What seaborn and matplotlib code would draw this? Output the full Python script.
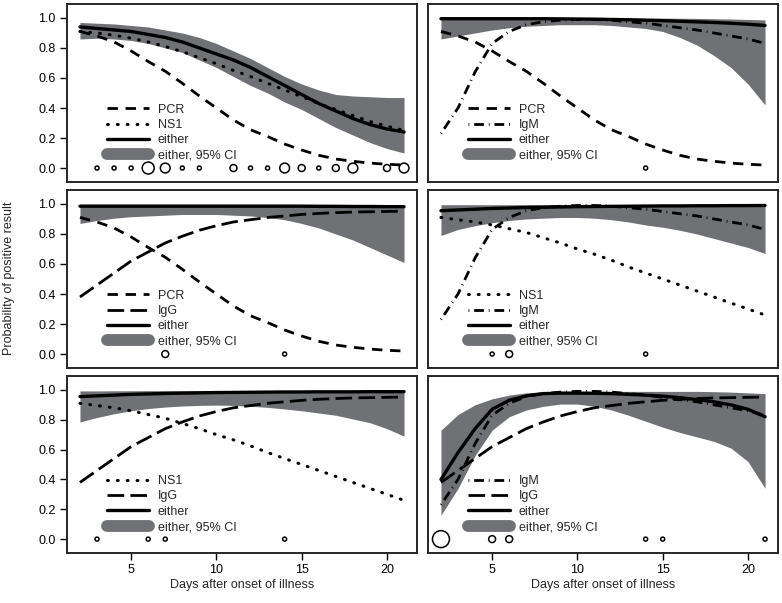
import matplotlib
matplotlib.use("Agg")
import matplotlib.pyplot as plt
from matplotlib.lines import Line2D
import seaborn as sns
import numpy as np

sns.set_style("ticks")
plt.rcParams['font.family'] = ['Liberation Sans', 'DejaVu Sans']
plt.rcParams['lines.scale_dashes'] = False

# ---------------- data ----------------
days = [2, 3, 4, 5, 6, 7, 8, 9, 10, 11, 12, 13, 14, 15, 16, 17, 18, 19, 20, 21]

pcr = [0.91, 0.88, 0.84, 0.78, 0.71, 0.645, 0.565, 0.48, 0.40, 0.32,
       0.255, 0.21, 0.16, 0.12, 0.085, 0.06, 0.045, 0.033, 0.025, 0.02]
ns1_a = [0.91, 0.90, 0.885, 0.865, 0.84, 0.81, 0.775, 0.735, 0.695, 0.65,
         0.61, 0.565, 0.52, 0.475, 0.43, 0.39, 0.35, 0.31, 0.28, 0.25]
ns1 = [0.91, 0.895, 0.88, 0.86, 0.835, 0.81, 0.775, 0.74, 0.70, 0.665,
       0.625, 0.58, 0.54, 0.50, 0.46, 0.42, 0.38, 0.34, 0.30, 0.26]
igm = [0.23, 0.40, 0.64, 0.83, 0.91, 0.955, 0.975, 0.985, 0.99, 0.99,
       0.985, 0.975, 0.965, 0.95, 0.935, 0.92, 0.90, 0.88, 0.86, 0.83]
igg = [0.38, 0.46, 0.54, 0.62, 0.68, 0.74, 0.785, 0.825, 0.855, 0.88,
       0.895, 0.91, 0.92, 0.93, 0.937, 0.942, 0.946, 0.948, 0.95, 0.952]

either1 = [0.94, 0.93, 0.92, 0.91, 0.89, 0.87, 0.84, 0.80, 0.76, 0.72,
           0.67, 0.61, 0.55, 0.49, 0.43, 0.38, 0.33, 0.29, 0.26, 0.24]
lo1 = [0.86, 0.865, 0.86, 0.85, 0.83, 0.80, 0.77, 0.72, 0.67, 0.61,
       0.55, 0.50, 0.44, 0.39, 0.33, 0.27, 0.22, 0.17, 0.13, 0.10]
hi1 = [0.97, 0.965, 0.96, 0.95, 0.94, 0.92, 0.90, 0.87, 0.83, 0.78,
       0.73, 0.67, 0.61, 0.56, 0.52, 0.49, 0.48, 0.475, 0.47, 0.47]

either2 = [0.995, 0.995, 0.995, 0.995, 0.995, 0.995, 0.995, 0.994, 0.993, 0.992,
           0.99, 0.988, 0.985, 0.982, 0.978, 0.974, 0.97, 0.965, 0.958, 0.95]
lo2 = [0.86, 0.88, 0.90, 0.92, 0.935, 0.945, 0.95, 0.955, 0.955, 0.955,
       0.95, 0.94, 0.93, 0.91, 0.87, 0.82, 0.75, 0.67, 0.56, 0.42]
hi2 = [0.999, 0.999, 0.999, 0.999, 0.999, 0.999, 0.999, 0.999, 0.999, 0.999,
       0.999, 0.999, 0.999, 0.999, 0.998, 0.997, 0.995, 0.993, 0.99, 0.987]

either3 = [0.985, 0.985, 0.985, 0.985, 0.985, 0.985, 0.985, 0.985, 0.985, 0.985,
           0.985, 0.985, 0.985, 0.985, 0.984, 0.984, 0.983, 0.983, 0.982, 0.982]
lo3 = [0.87, 0.89, 0.905, 0.915, 0.92, 0.925, 0.93, 0.93, 0.93, 0.925,
       0.92, 0.91, 0.895, 0.87, 0.84, 0.80, 0.76, 0.71, 0.66, 0.61]
hi3 = [0.998, 0.998, 0.998, 0.998, 0.998, 0.998, 0.998, 0.998, 0.998, 0.998,
       0.998, 0.998, 0.998, 0.998, 0.998, 0.997, 0.997, 0.996, 0.996, 0.995]

either4 = [0.955, 0.96, 0.965, 0.97, 0.973, 0.976, 0.978, 0.98, 0.982, 0.983,
           0.984, 0.985, 0.986, 0.987, 0.987, 0.988, 0.988, 0.989, 0.989, 0.99]
lo4 = [0.79, 0.83, 0.855, 0.875, 0.89, 0.90, 0.905, 0.91, 0.91, 0.905,
       0.895, 0.88, 0.86, 0.845, 0.825, 0.80, 0.77, 0.74, 0.71, 0.67]
hi4 = [0.995, 0.995, 0.995, 0.995, 0.995, 0.996, 0.996, 0.996, 0.996, 0.996,
       0.996, 0.996, 0.996, 0.996, 0.996, 0.996, 0.996, 0.996, 0.996, 0.996]

either5 = [0.955, 0.96, 0.965, 0.97, 0.973, 0.976, 0.978, 0.98, 0.982, 0.983,
           0.984, 0.985, 0.986, 0.986, 0.987, 0.987, 0.987, 0.988, 0.988, 0.988]
lo5 = [0.785, 0.815, 0.84, 0.86, 0.875, 0.885, 0.892, 0.896, 0.898, 0.896,
       0.89, 0.883, 0.872, 0.86, 0.845, 0.83, 0.805, 0.78, 0.74, 0.69]
hi5 = [0.993, 0.993, 0.994, 0.994, 0.995, 0.995, 0.995, 0.995, 0.995, 0.995,
       0.995, 0.995, 0.995, 0.995, 0.995, 0.995, 0.995, 0.995, 0.995, 0.995]

either6 = [0.40, 0.58, 0.74, 0.87, 0.93, 0.96, 0.975, 0.978, 0.978, 0.977,
           0.975, 0.97, 0.965, 0.958, 0.948, 0.935, 0.92, 0.90, 0.87, 0.82]
lo6 = [0.16, 0.34, 0.56, 0.73, 0.82, 0.865, 0.89, 0.905, 0.905, 0.89,
       0.865, 0.83, 0.79, 0.75, 0.715, 0.685, 0.655, 0.61, 0.52, 0.34]
hi6 = [0.73, 0.835, 0.90, 0.94, 0.965, 0.98, 0.987, 0.99, 0.99, 0.99,
       0.99, 0.99, 0.99, 0.99, 0.99, 0.99, 0.988, 0.985, 0.98, 0.975]

c1_days = [3, 4, 5, 6, 7, 8, 9, 11, 12, 13, 14, 15, 16, 17, 18, 20, 21]
c1_n = [1, 1, 1, 9, 6, 1, 1, 3, 1, 1, 6, 3, 1, 3, 6, 3, 6]
c2_days = [14]
c2_n = [1]
c3_days = [7, 14]
c3_n = [3, 1]
c4_days = [5, 6, 14]
c4_n = [1, 3, 1]
c5_days = [3, 6, 7, 14]
c5_n = [1, 1, 1, 1]
c6_days = [2, 5, 6, 14, 15, 21]
c6_n = [18, 3, 3, 1, 1, 1]

# ---------------- styles ----------------
STY = {
    'PCR': dict(ls=(0, (7.5, 5.5)), lw=2.0, cap='butt'),
    'NS1': dict(ls=(0, (0.6, 6.5)), lw=2.2, cap='round'),
    'IgM': dict(ls=(0, (0.6, 3.5, 7.0, 3.5)), lw=2.0, cap='butt'),
    'IgG': dict(ls=(0, (12.0, 4.5)), lw=2.0, cap='butt'),
}
BAND = '#707174'
FS = 9

panels = [
    (('PCR', pcr), ('NS1', ns1_a), either1, lo1, hi1, c1_days, c1_n),
    (('PCR', pcr), ('IgM', igm), either2, lo2, hi2, c2_days, c2_n),
    (('PCR', pcr), ('IgG', igg), either3, lo3, hi3, c3_days, c3_n),
    (('NS1', ns1), ('IgM', igm), either4, lo4, hi4, c4_days, c4_n),
    (('NS1', ns1), ('IgG', igg), either5, lo5, hi5, c5_days, c5_n),
    (('IgM', igm), ('IgG', igg), either6, lo6, hi6, c6_days, c6_n),
]

W, H = 782, 603
fig = plt.figure(figsize=(W / 100, H / 100), dpi=100)
cols_px = [(67, 417), (428, 778)]
rows_px = [(4, 182), (190, 368), (376, 553)]

for i, (t1, t2, eith, lo, hi, cd, cn) in enumerate(panels):
    r, c = divmod(i, 2)
    x0, x1 = cols_px[c]
    y0, y1 = rows_px[r]
    ax = fig.add_axes([x0 / W, 1 - y1 / H, (x1 - x0) / W, (y1 - y0) / H])
    ax.fill_between(days, lo, hi, color=BAND, lw=0)
    handles = []
    for name, vals in (t1, t2):
        s = STY[name]
        sns.lineplot(x=days, y=vals, ax=ax, color='black', linewidth=s['lw'],
                     linestyle=s['ls'], dash_capstyle=s['cap'])
        handles.append(Line2D([], [], color='black', lw=s['lw'], linestyle=s['ls'],
                              dash_capstyle=s['cap']))
    sns.lineplot(x=days, y=eith, ax=ax, color='black', linewidth=2.4)
    handles.append(Line2D([], [], color='black', lw=2.4))
    handles.append(Line2D([], [], color=BAND, lw=8.5, solid_capstyle='round'))
    sns.scatterplot(x=cd, y=[0.0] * len(cd), size=cn, sizes=(8.3, 149),
                    size_norm=(1, 18), ax=ax, marker='o', facecolor='none',
                    edgecolor='black', linewidth=1.1, legend=False)
    ax.legend(handles, [t1[0], t2[0], 'either', 'either, 95% CI'],
              loc='upper left', bbox_to_anchor=(0.115, 0.44), frameon=False,
              fontsize=FS, handlelength=3.3, handletextpad=0.75,
              labelspacing=0.27, borderpad=0, borderaxespad=0)

    ax.set_xlim(1.24, 21.76)
    ax.set_ylim(-0.093, 1.093)
    ax.set_xticks([5, 10, 15, 20])
    ax.set_yticks([0.0, 0.2, 0.4, 0.6, 0.8, 1.0])
    ax.set_xlabel('')
    ax.set_ylabel('')
    for sp in ax.spines.values():
        sp.set_visible(True)
        sp.set_linewidth(1.4)
    ax.tick_params(direction='out', length=5, width=1.0, labelsize=FS,
                   colors='black', pad=3)
    if c == 0:
        ax.set_yticklabels(['0.0', '0.2', '0.4', '0.6', '0.8', '1.0'])
    else:
        ax.tick_params(axis='y', left=False, labelleft=False)
    if r == 2:
        ax.set_xticklabels(['5', '10', '15', '20'])
        ax.set_xlabel('Days after onset of illness', fontsize=FS, labelpad=2)
    else:
        ax.tick_params(axis='x', bottom=False, labelbottom=False)

fig.text(9 / W, 1 - 278 / H, 'Probability of positive result', rotation=90,
         ha='center', va='center', fontsize=FS)

fig.savefig('out.png', dpi=100)
